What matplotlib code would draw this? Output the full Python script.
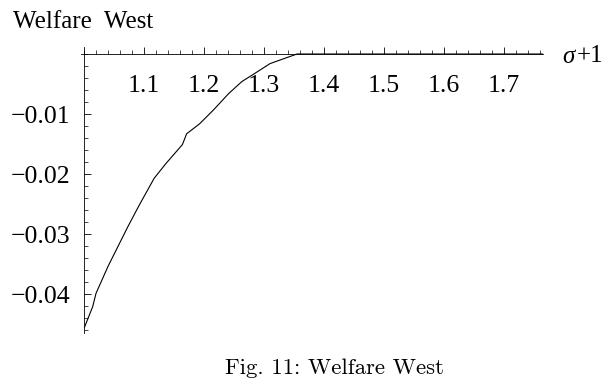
import numpy as np
import matplotlib
matplotlib.use("Agg")
import matplotlib.pyplot as plt
from matplotlib.ticker import MultipleLocator, FixedLocator

# welfare change in the West against sigma+1
sigma1 = [1.001, 1.0145, 1.020, 1.040, 1.059, 1.073, 1.092, 1.117, 1.137, 1.164,
          1.171, 1.193, 1.216, 1.241, 1.263, 1.282, 1.310, 1.338, 1.355,
          1.40, 1.50, 1.60, 1.70, 1.765]
welfare = [-0.0455, -0.0421, -0.0399, -0.0354, -0.0316, -0.0288, -0.0252, -0.0207,
           -0.0182, -0.0151, -0.0133, -0.0116, -0.0093, -0.0066, -0.0046, -0.0034,
           -0.0016, -0.0006, 0.0, 0.0, 0.0, 0.0, 0.0, 0.0]

x_ticks = [1.1, 1.2, 1.3, 1.4, 1.5, 1.6, 1.7]
y_ticks = [-0.04, -0.03, -0.02, -0.01]

serif = "Liberation Serif"
W, H = 611, 385
fig = plt.figure(figsize=(W / 100, H / 100), dpi=100)

# axes box in pixels: left 81, right 543, top 47, bottom 333
left, right, top, bottom = 81, 543, 47, 333
ax = fig.add_axes([left / W, 1 - bottom / H, (right - left) / W, (bottom - top) / H])
ax.set_xlim(0.995, 1.765)
ax.set_ylim(-0.0465, 0.00117)

ax.plot(sigma1, welfare, color="black", lw=0.8)

for s in ["top", "right"]:
    ax.spines[s].set_visible(False)
ax.spines["left"].set_position(("data", 1.0))
ax.spines["bottom"].set_position(("data", 0.0))
ax.spines["left"].set_linewidth(0.6)
ax.spines["bottom"].set_linewidth(0.6)

ax.xaxis.set_major_locator(FixedLocator(x_ticks))
ax.yaxis.set_major_locator(FixedLocator(y_ticks))
ax.xaxis.set_minor_locator(MultipleLocator(0.02))
ax.yaxis.set_minor_locator(MultipleLocator(0.002))
ax.set_xticklabels([f"{v:.1f}" for v in x_ticks], fontfamily=serif, fontsize=18.5)
ax.set_yticklabels([f"\u2212{abs(v):.2f}" for v in y_ticks], fontfamily=serif, fontsize=18.5)

ax.tick_params(axis="x", which="major", direction="in", length=5, width=0.6, pad=15)
ax.tick_params(axis="y", which="major", direction="in", length=5, width=0.6, pad=10)
ax.tick_params(which="minor", direction="in", length=3, width=0.5)

fig.text(13 / W, 1 - 22 / H, "Welfare  West", fontfamily=serif, fontsize=18,
         ha="left", va="center")
fig.text(562 / W, 1 - 57 / H, "\u03c3", fontfamily=serif, fontstyle="italic",
         fontsize=18, ha="left", va="center")
fig.text(577 / W, 1 - 56 / H, "+1", fontfamily=serif, fontsize=18,
         ha="left", va="center")
fig.text(334 / W, 1 - 368 / H, "Fig. 11: Welfare West", fontfamily="cmr10",
         fontsize=16.4, ha="center", va="center")

fig.savefig("out.png", dpi=100)
